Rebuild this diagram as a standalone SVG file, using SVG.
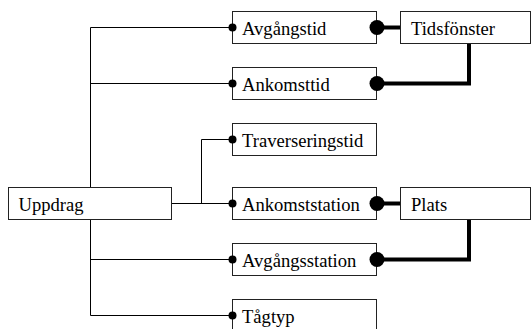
<svg xmlns="http://www.w3.org/2000/svg" width="531" height="329" viewBox="0 0 531 329">
  <style>
    .box { fill: #ffffff; stroke: #222222; stroke-width: 1; }
    .lbl { font-size: 18.6px; fill: #000000; }
    .thin { fill: none; stroke: #000000; stroke-width: 1; }
    .thick { fill: none; stroke: #000000; stroke-width: 4; }
    .dot { fill: #000000; }
  </style>
  <rect width="531" height="329" fill="#ffffff"/>

  <!-- connectors -->
  <g id="connectors">
    <path class="thin" d="M90.5 27.5 V187.5 M90.5 219.5 V315.5"/>
    <path class="thin" d="M90.5 27.5 H232.5 M90.5 83.5 H232.5 M90.5 259.5 H232.5 M90.5 315.5 H232.5"/>
    <path class="thin" d="M171.5 203.5 H232.5 M201.5 203.5 V139.5 H232.5"/>
    <path class="thick" d="M377 27.5 H400.5"/>
    <path class="thick" d="M377 83.5 H469 V43.5"/>
    <path class="thick" d="M377 203.5 H400.5"/>
    <path class="thick" d="M377 259.5 H469 V219.5"/>
  </g>

  <g font-family="Liberation Serif, serif">
  <g id="uppdrag">
    <rect class="box" x="8.5" y="187.5" width="163" height="32"/>
    <text class="lbl" x="18.5" y="211">Uppdrag</text>
  </g>
  <g id="avgangstid">
    <rect class="box" x="232.5" y="11.5" width="144" height="32"/>
    <text class="lbl" x="242" y="35">Avgångstid</text>
  </g>
  <g id="ankomsttid">
    <rect class="box" x="232.5" y="67.5" width="144" height="32"/>
    <text class="lbl" x="242" y="91">Ankomsttid</text>
  </g>
  <g id="traverseringstid">
    <rect class="box" x="232.5" y="123.5" width="144" height="32"/>
    <text class="lbl" x="242" y="147">Traverseringstid</text>
  </g>
  <g id="ankomststation">
    <rect class="box" x="232.5" y="187.5" width="144" height="32"/>
    <text class="lbl" x="242" y="211">Ankomststation</text>
  </g>
  <g id="avgangsstation">
    <rect class="box" x="232.5" y="243.5" width="144" height="32"/>
    <text class="lbl" x="242" y="267">Avgångsstation</text>
  </g>
  <g id="tagtyp">
    <rect class="box" x="232.5" y="299.5" width="144" height="32"/>
    <text class="lbl" x="242" y="323">Tågtyp</text>
  </g>
  <g id="tidsfonster">
    <rect class="box" x="400.5" y="11.5" width="130" height="32"/>
    <text class="lbl" x="411" y="35">Tidsfönster</text>
  </g>
  <g id="plats">
    <rect class="box" x="400.5" y="187.5" width="130" height="32"/>
    <text class="lbl" x="411" y="211">Plats</text>
  </g>
  </g>

  <!-- connector end dots -->
  <g id="dots">
    <circle class="dot" cx="232.5" cy="27.5" r="4"/>
    <circle class="dot" cx="232.5" cy="83.5" r="4"/>
    <circle class="dot" cx="232.5" cy="139.5" r="4"/>
    <circle class="dot" cx="232.5" cy="203.5" r="4"/>
    <circle class="dot" cx="232.5" cy="259.5" r="4"/>
    <circle class="dot" cx="232.5" cy="315.5" r="4"/>
    <circle class="dot" cx="377" cy="27.5" r="7.5"/>
    <circle class="dot" cx="377" cy="83.5" r="7.5"/>
    <circle class="dot" cx="377" cy="203.5" r="7.5"/>
    <circle class="dot" cx="377" cy="259.5" r="7.5"/>
  </g>
</svg>
